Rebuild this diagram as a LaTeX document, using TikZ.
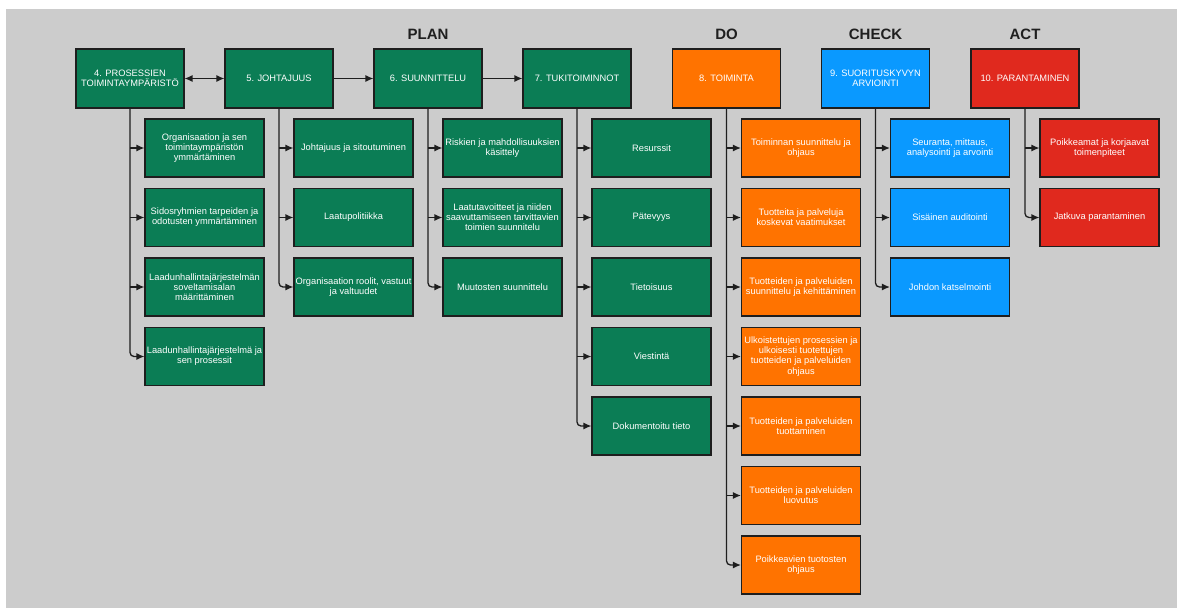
\documentclass[tikz,border=0pt]{standalone}
\usepackage{fontspec}
\setmainfont{Liberation Sans}
\usetikzlibrary{arrows.meta}
\definecolor{bg}{HTML}{CCCCCC}
\definecolor{plangreen}{HTML}{0B7D55}
\definecolor{doorange}{HTML}{FF7300}
\definecolor{checkblue}{HTML}{0A99FF}
\definecolor{actred}{HTML}{E0291E}
\definecolor{edge}{HTML}{1E1E1E}
\tikzset{
  box/.style={draw=edge, line width=1.1pt, text=white, align=center, inner sep=1pt,
    font=\fontsize{9.3}{10.1}\selectfont},
  headbox/.style={box, minimum width=108pt, minimum height=59pt},
  subbox/.style={box, minimum width=119pt, minimum height=58pt},
  tip/.tip={Latex[length=8pt,width=7pt]},
  link/.style={draw=edge, line width=1.3pt, -tip},
  dlink/.style={draw=edge, line width=1.3pt, tip-tip},
  phase/.style={font=\fontsize{15}{17}\bfseries\selectfont, text=black!88}
}
% one column of sub-boxes under a clause box
\newcommand\subcol[4]{%
  \foreach \t [count=\k] in {#4}{%
    \node[subbox, fill=#2] (#1-\k) at (#3, 148+69.5*\k-69.5) {\t};
  }%
}
% trunk from a clause box to its sub-boxes
\newcommand\branches[2]{%
  \draw[link, rounded corners=4pt] (#1.south) |- (#1-#2.west);
  \pgfmathtruncatemacro\lastk{#2-1}%
  \foreach \k in {1,...,\lastk}{%
    \draw[link] (#1.south |- #1-\k.west) -- (#1-\k.west);
  }%
}
\begin{document}
\begin{tikzpicture}[x=1pt, y=-1pt]
  \useasboundingbox (0,0) rectangle (1177,608);
  \fill[white] (0,0) rectangle (1177,608);
  \fill[bg] (6,9) rectangle (1177,608);

  % phase titles
  \node[phase] (tplan)  at (428,34)  {PLAN};
  \node[phase] (tdo)    at (726.5,34) {DO};
  \node[phase] (tcheck) at (875.5,34) {CHECK};
  \node[phase] (tact)   at (1025,34) {ACT};

  % clause boxes
  \node[headbox, fill=plangreen] (p4)  at (130,78.5)   {4. PROSESSIEN\\TOIMINTAYMPÄRISTÖ};
  \node[headbox, fill=plangreen] (p5)  at (279,78.5)   {5. JOHTAJUUS};
  \node[headbox, fill=plangreen] (p6)  at (428,78.5)   {6. SUUNNITTELU};
  \node[headbox, fill=plangreen] (p7)  at (577,78.5)   {7. TUKITOIMINNOT};
  \node[headbox, fill=doorange]  (p8)  at (726.5,78.5) {8. TOIMINTA};
  \node[headbox, fill=checkblue] (p9)  at (875.5,78.5) {9. SUORITUSKYVYN\\ARVIOINTI};
  \node[headbox, fill=actred]    (p10) at (1025,78.5)  {10. PARANTAMINEN};

  \draw[dlink] (p4.east) -- (p5.west);
  \draw[link] (p5.east) -- (p6.west);
  \draw[link] (p6.east) -- (p7.west);

  % sub-clauses
  \subcol{p4}{plangreen}{204.5}{%
    {Organisaation ja sen\\toimintaympäristön\\ymmärtäminen},
    {Sidosryhmien tarpeiden ja\\odotusten ymmärtäminen},
    {Laadunhallintajärjestelmän\\soveltamisalan\\määrittäminen},
    {Laadunhallintajärjestelmä ja\\sen prosessit}}
  \subcol{p5}{plangreen}{353.5}{%
    {Johtajuus ja sitoutuminen},
    {Laatupolitiikka},
    {Organisaation roolit, vastuut\\ja valtuudet}}
  \subcol{p6}{plangreen}{502.5}{%
    {Riskien ja mahdollisuuksien\\käsittely},
    {Laatutavoitteet ja niiden\\saavuttamiseen tarvittavien\\toimien suunnitelu},
    {Muutosten suunnittelu}}
  \subcol{p7}{plangreen}{651.5}{%
    {Resurssit},{Pätevyys},{Tietoisuus},{Viestintä},{Dokumentoitu tieto}}
  \subcol{p8}{doorange}{801}{%
    {Toiminnan suunnittelu ja\\ohjaus},
    {Tuotteita ja palveluja\\koskevat vaatimukset},
    {Tuotteiden ja palveluiden\\suunnittelu ja kehittäminen},
    {Ulkoistettujen prosessien ja\\ulkoisesti tuotettujen\\tuotteiden ja palveluiden\\ohjaus},
    {Tuotteiden ja palveluiden\\tuottaminen},
    {Tuotteiden ja palveluiden\\luovutus},
    {Poikkeavien tuotosten\\ohjaus}}
  \subcol{p9}{checkblue}{950}{%
    {Seuranta, mittaus,\\analysointi ja arvointi},
    {Sisäinen auditointi},
    {Johdon katselmointi}}
  \subcol{p10}{actred}{1099.5}{%
    {Poikkeamat ja korjaavat\\toimenpiteet},
    {Jatkuva parantaminen}}

  \branches{p4}{4}
  \branches{p5}{3}
  \branches{p6}{3}
  \branches{p7}{5}
  \branches{p8}{7}
  \branches{p9}{3}
  \branches{p10}{2}
\end{tikzpicture}
\end{document}
